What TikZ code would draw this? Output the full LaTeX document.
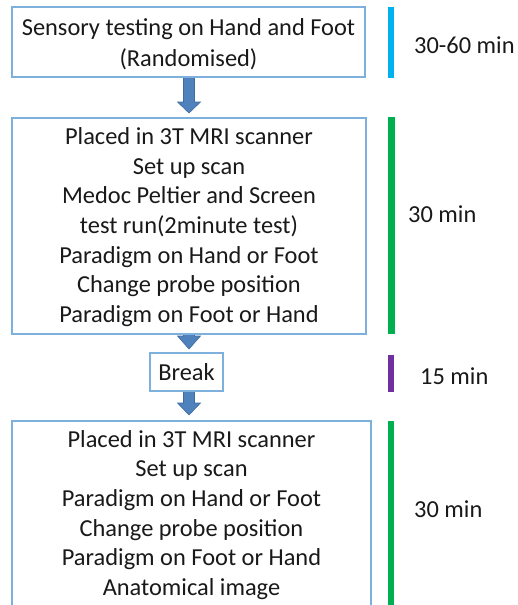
\documentclass[tikz,border=0pt]{standalone}
\usepackage{fontspec}
\setmainfont{Carlito}
\definecolor{boxline}{HTML}{7EB0DE}
\definecolor{arrfill}{HTML}{4F81BD}
\definecolor{arrline}{HTML}{3F6C9E}
\definecolor{barblue}{HTML}{00B0F0}
\definecolor{bargreen}{HTML}{00B050}
\definecolor{barpurple}{HTML}{7030A0}
\tikzset{
  stepbox/.style={draw=boxline, line width=1.3pt, fill=white, align=center,
    font=\fontsize{24.4}{29.7}\selectfont, inner sep=0pt, text=black!90},
  timelabel/.style={anchor=west, font=\fontsize{24.4}{29}\selectfont, inner sep=0pt, text=black!90},
  blockarr/.style={fill=arrfill, draw=arrline, line width=0.6pt, line join=miter},
  timebar/.style={inner sep=0pt, minimum width=6.5pt}
}
\newcommand{\barrow}[4]{%
  \filldraw[blockarr] ({#1-5.5},#2) -- ({#1+5.5},#2) -- ({#1+5.5},#3) -- ({#1+11.5},#3)
    -- (#1,#4) -- ({#1-11.5},#3) -- ({#1-5.5},#3) -- cycle;}
\newcommand{\lowerby}[2]{\raisebox{-#1}[\height][\depth]{#2}}
\begin{document}
\begin{tikzpicture}[x=1pt,y=-1pt]
\clip (0,0) rectangle (517,605);
\fill[white] (0,0) rectangle (517,605);
% arrows (behind boxes)
\barrow{189}{77}{102}{113}
\barrow{189}{333}{336}{349}
\barrow{189}{391}{403}{415}
% boxes
\node[stepbox, minimum width=353, minimum height=70] (b1) at (188.5,42)
  {\lowerby{3pt}{\fontsize{24.4}{31}\selectfont\begin{tabular}{@{}c@{}}Sensory testing on Hand and Foot\\(Randomised)\end{tabular}}};
\node[stepbox, minimum width=354, minimum height=216] (b2) at (189,226)
  {\lowerby{1.5pt}{\begin{tabular}{@{}c@{}}Placed in 3T MRI scanner\\Set up scan\\Medoc Peltier and Screen\\test run(2minute test)\\Paradigm on Hand or Foot\\Change probe position\\Paradigm on Foot or Hand\end{tabular}}};
\node[stepbox, minimum width=73, minimum height=38] (bk) at (186.5,372) {Break};
\node[stepbox, minimum width=359, minimum height=188] (b3) at (191.5,515)
  {Placed in 3T MRI scanner\\Set up scan\\Paradigm on Hand or Foot\\Change probe position\\Paradigm on Foot or Hand\\Anatomical image};
% time bars
\node[timebar, fill=barblue, minimum height=71] (t1) at (391,42.5) {};
\node[timebar, fill=bargreen, minimum height=217] (t2) at (391.5,225.5) {};
\node[timebar, fill=barpurple, minimum height=37] (t3) at (391,373.5) {};
\node[timebar, fill=bargreen, minimum height=200] (t4) at (391,521) {};
% time labels
\node[timelabel] (l1) at (414,45) {30-60 min};
\node[timelabel] (l2) at (408,214) {30 min};
\node[timelabel] (l3) at (420,376) {15 min};
\node[timelabel] (l4) at (414,509) {30 min};
\end{tikzpicture}
\end{document}
